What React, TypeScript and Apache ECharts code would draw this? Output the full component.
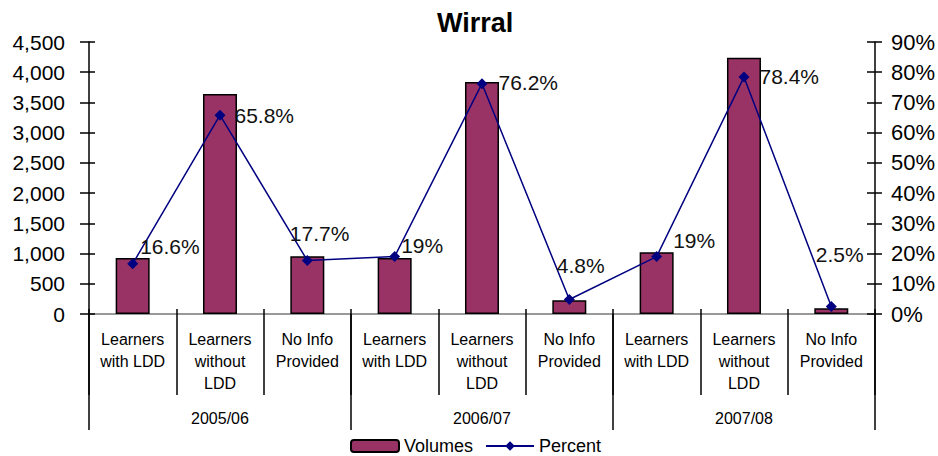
import React, { useEffect, useRef } from "react";
import * as echarts from "echarts";

const categories = [
  "Learners\nwith LDD", "Learners\nwithout\nLDD", "No Info\nProvided",
  "Learners\nwith LDD", "Learners\nwithout\nLDD", "No Info\nProvided",
  "Learners\nwith LDD", "Learners\nwithout\nLDD", "No Info\nProvided",
];
const years = ["2005/06", "2006/07", "2007/08"];
const volumes = [925, 3640, 955, 925, 3840, 228, 1020, 4240, 95];
const percents = [16.6, 65.8, 17.7, 19, 76.2, 4.8, 19, 78.4, 2.5];
// label offsets (styling only) for each percent label
const labelOffsets: [number, number][] = [
  [2, -17], [9, 0], [-23, -27], [1, -11], [11, -1], [-18, -34], [11, -16], [10, -1], [-21, -52],
];

const FONT = 'Arial, "Liberation Sans", sans-serif';

export default function App() {
  const ref = useRef<HTMLDivElement>(null);
  useEffect(() => {
    if (!ref.current) return;
    const chart = echarts.init(ref.current, null, { renderer: "svg" });
    const leftY = { type: "value", min: 0, max: 4500, interval: 500 };
    const rightY = { type: "value", min: 0, max: 90, interval: 10 };
    chart.setOption({
      animation: false,
      backgroundColor: "#fff",
      textStyle: { fontFamily: FONT },
      title: {
        text: "Wirral",
        left: 437,
        top: 9,
        padding: 0,
        textStyle: { fontFamily: FONT, fontSize: 27, fontWeight: "bold", color: "#000" },
      },
      legend: {
        left: 350,
        top: 436,
        itemWidth: 48,
        itemHeight: 12,
        itemGap: 12,
        padding: 0,
        textStyle: { fontFamily: FONT, fontSize: 18, lineHeight: 20, color: "#000" },
        data: ["Volumes", "Percent"],
      },
      grid: { left: 89, right: 63, top: 42, bottom: 142 },
      xAxis: [
        {
          type: "category",
          data: categories,
          position: "bottom",
          axisLine: { show: true, lineStyle: { color: "#000", width: 1.5 } },
          axisTick: { show: true, alignWithLabel: false, length: 81, lineStyle: { color: "#000", width: 1.5 } },
          axisLabel: {
            interval: 0,
            margin: 15,
            fontFamily: FONT,
            fontSize: 16,
            lineHeight: 21.7,
            color: "#000",
          },
          splitLine: { show: false },
        },
        {
          type: "category",
          data: years,
          position: "bottom",
          axisLine: { show: false },
          axisTick: { show: true, alignWithLabel: false, length: 116, lineStyle: { color: "#000", width: 1.5 } },
          axisLabel: { interval: 0, margin: 94, fontFamily: FONT, fontSize: 16, lineHeight: 20, color: "#000" },
          splitLine: { show: false },
        },
        {
          type: "category",
          data: categories,
          position: "top",
          axisLine: { show: true, lineStyle: { color: "#999", width: 2 } },
          axisTick: { show: false },
          axisLabel: { show: false },
          splitLine: { show: false },
        },
        {
          type: "category",
          data: categories,
          position: "bottom",
          axisLine: { show: false },
          axisTick: { show: true, inside: true, alignWithLabel: false, length: 5, lineStyle: { color: "#000", width: 1.5 } },
          axisLabel: { show: false },
          splitLine: { show: false },
        },
      ],
      yAxis: [
        {
          ...leftY,
          position: "left",
          axisLine: { show: true, lineStyle: { color: "#000", width: 1.5 } },
          axisTick: { show: true, length: 9, lineStyle: { color: "#000", width: 1.5 } },
          axisLabel: {
            margin: 24,
            fontFamily: FONT,
            fontSize: 21,
            color: "#000",
            formatter: (v: number) => v.toLocaleString("en-US"),
          },
          splitLine: { show: false },
        },
        {
          ...rightY,
          position: "right",
          axisLine: { show: true, lineStyle: { color: "#000", width: 1.5 } },
          axisTick: { show: true, length: 7, lineStyle: { color: "#000", width: 1.5 } },
          axisLabel: { margin: 16, fontFamily: FONT, fontSize: 22, color: "#000", formatter: "{value}%" },
          splitLine: { show: false },
        },
        {
          ...leftY,
          position: "left",
          axisLine: { show: false },
          axisTick: { show: true, inside: true, length: 6, lineStyle: { color: "#000", width: 1.5 } },
          axisLabel: { show: false },
          splitLine: { show: false },
        },
        {
          ...rightY,
          position: "right",
          axisLine: { show: false },
          axisTick: { show: true, inside: true, length: 8, lineStyle: { color: "#000", width: 1.5 } },
          axisLabel: { show: false },
          splitLine: { show: false },
        },
      ],
      series: [
        {
          name: "Volumes",
          type: "bar",
          xAxisIndex: 0,
          yAxisIndex: 0,
          data: volumes,
          barWidth: 34,
          itemStyle: { color: "#993366", borderColor: "#000", borderWidth: 1.5 },
        },
        {
          name: "Percent",
          type: "line",
          xAxisIndex: 0,
          yAxisIndex: 1,
          data: percents.map((v, i) => ({
            value: v,
            label: { offset: labelOffsets[i] },
          })),
          symbol: "diamond",
          symbolSize: 11,
          lineStyle: { color: "#000080", width: 1.5 },
          itemStyle: { color: "#000080" },
          label: {
            show: true,
            position: "right",
            distance: 0,
            fontFamily: FONT,
            fontSize: 21,
            color: "#111",
            formatter: (p: any) => `${p.value}%`,
          },
          z: 5,
        },
      ],
    });
    return () => chart.dispose();
  }, []);
  return (
    <div
      ref={ref}
      style={{ position: "fixed", left: 0, top: 0, width: 938, height: 456, background: "#fff" }}
    />
  );
}
